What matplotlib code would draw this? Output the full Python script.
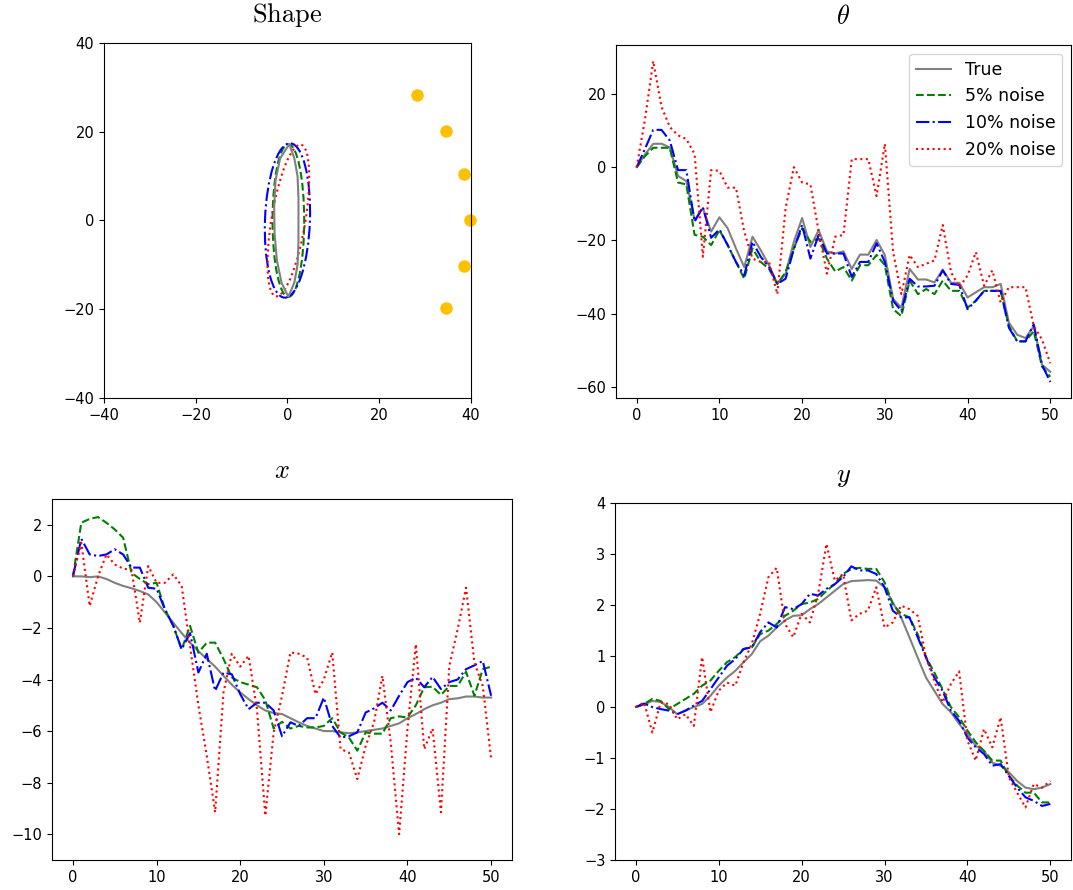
import numpy as np
import matplotlib
matplotlib.use('Agg')
import matplotlib.pyplot as plt
from matplotlib.patches import Ellipse

plt.rcParams['mathtext.fontset'] = 'cm'

t = np.arange(51)
labels = ['True', '5% noise', '10% noise', '20% noise']
colors = ['grey', 'g', 'b', 'r']
styles = ['-', '--', '-.', ':']

# theta
theta_true = [0, 3.5, 6.4, 6.4, 5.4, -2.4, -3.8, -14.4, -11.2, -17.6, -13.7, -16.7, -22.2, -27.3, -19, -22.7,
              -26.8, -31.9, -29.1, -20.4, -13.9, -21.8, -17.2, -23, -23.6, -23, -27.8, -23.9, -23.9, -19.9, -24,
              -36, -38.4, -27.8, -30.7, -30.7, -31.5, -28, -31.6, -31.6, -35.6, -34.2, -32.8, -32.8, -31.9, -42.5,
              -45.8, -46.7, -43.4, -54, -55.9]
theta_5 = [0, 3, 5.3, 5.3, 5.3, -4.2, -4.7, -18.5, -19, -21.3, -17.2, -21.3, -25.9, -30.5, -22.2, -25.9,
           -27.8, -31.9, -28.7, -22.2, -16.7, -20.4, -19.5, -25, -28.5, -27.3, -31, -26.8, -26.8, -24, -26.8,
           -38.8, -40.7, -31, -34.7, -33.3, -34.7, -31, -33.8, -33.8, -38.4, -36.5, -33.8, -33.8, -33.8, -43.4,
           -47.6, -47.6, -44.8, -54.5, -57.3]
theta_10 = [0, 5, 10.2, 10.2, 7.3, -0.8, -0.8, -14.9, -10.9, -19.3, -17, -21.3, -25.9, -29.6, -20.4, -24.5,
            -27.3, -31.9, -30.5, -22.4, -15.8, -25, -18.5, -23.6, -23.6, -23.6, -30, -25.9, -25.9, -20.8, -25.9,
            -36.5, -39.3, -30.5, -32.6, -32.6, -32.4, -28.2, -31.9, -32.2, -38.8, -36.5, -33.8, -33.8, -33.8, -43.9,
            -47.6, -47.6, -43, -54, -58.7]
theta_20 = [0, 13, 29, 16.5, 11, 8.7, 7.7, 3.6, -24.5, -0.8, -1, -5.6, -5.6, -17.6, -25, -25.9,
            -25.9, -34.7, -11.2, 0, -4.2, -4.7, -17.6, -29.1, -19, -18.5, 2.2, 2.2, 2.2, -7.9, 6.4,
            -23.2, -34.7, -24, -27.3, -26.4, -25.5, -15.8, -28.7, -32.8, -29.6, -23.2, -32.4, -28.2, -37, -32.8,
            -32.8, -32.8, -43.4, -47.1, -53.6]

# x
x_true = [0, 0, -0.03, 0, -0.1, -0.25, -0.37, -0.46, -0.57, -0.7, -1.0, -1.4, -1.8, -2.2, -2.57, -2.9,
          -3.2, -3.5, -3.86, -4.2, -4.5, -4.76, -5.0, -5.2, -5.3, -5.34, -5.5, -5.66, -5.8, -5.9, -6.0,
          -6.0, -6.05, -6.08, -6.05, -6.0, -5.95, -5.9, -5.8, -5.7, -5.5, -5.34, -5.15, -5.0, -4.9, -4.76,
          -4.73, -4.66, -4.66, -4.7, -4.7]
x_5 = [0, 2.08, 2.23, 2.3, 2.08, 1.82, 1.5, 0.14, -0.1, -0.3, -0.25, -1.28, -1.92, -2.83, -1.92, -2.96,
       -2.57, -2.57, -3.2, -3.92, -4.1, -4.2, -4.3, -4.8, -5.9, -5.64, -5.9, -5.8, -5.86, -5.86, -5.8,
       -5.5, -6.05, -6.25, -6.76, -6.05, -6.1, -6.1, -5.5, -5.43, -5.47, -5.0, -4.3, -4.28, -4.6, -4.25,
       -4.25, -3.7, -4.63, -3.6, -3.5]
x_10 = [0, 1.46, 0.85, 0.79, 0.85, 1.05, 0.85, 0.34, 0.34, -0.44, -0.48, -1.28, -1.92, -2.83, -2.2, -3.73,
        -3.0, -4.44, -3.73, -3.8, -4.57, -5.15, -4.9, -4.9, -5.2, -6.2, -5.66, -5.8, -5.5, -5.5, -4.7,
        -5.8, -6.25, -6.2, -6.05, -5.28, -5.12, -4.9, -5.2, -4.63, -4.1, -3.93, -4.3, -3.9, -4.37, -4.1,
        -4.0, -3.6, -3.45, -3.28, -4.63]
x_20 = [0, 1.3, -1.15, 0, 0.85, 0.46, 0.3, 0.25, -1.8, 0.4, -0.25, -0.25, 0.08, -0.37, -2.7, -5.0,
        -6.96, -9.15, -4.5, -3.0, -3.5, -3.08, -5.15, -9.28, -6.05, -4.63, -2.95, -3.0, -3.15, -4.57, -4.0,
        -2.95, -6.7, -6.83, -7.86, -6.58, -5.66, -3.86, -6.45, -10.0, -5.9, -2.63, -6.7, -5.9, -9.15, -3.47,
        -2.05, -0.44, -3.34, -4.25, -7.08]

# y
y_true = [0, 0.05, 0.12, 0.1, 0, -0.14, -0.07, 0, 0.06, 0.22, 0.42, 0.58, 0.71, 0.88, 1.04, 1.29,
          1.4, 1.56, 1.7, 1.79, 1.8, 1.92, 2.02, 2.15, 2.28, 2.41, 2.47, 2.48, 2.49, 2.48, 2.35,
          2.05, 1.76, 1.37, 0.97, 0.58, 0.32, 0.06, -0.1, -0.33, -0.53, -0.76, -0.86, -1.09, -1.15, -1.28,
          -1.45, -1.58, -1.61, -1.58, -1.51]
y_5 = [0, 0.06, 0.16, 0.12, -0.04, 0.06, 0.16, 0.26, 0.42, 0.52, 0.71, 0.88, 0.98, 1.14, 1.17, 1.43,
       1.5, 1.63, 1.79, 1.89, 2.02, 2.05, 2.12, 2.28, 2.41, 2.61, 2.71, 2.73, 2.71, 2.71, 2.45,
       2.02, 1.83, 1.76, 1.43, 0.98, 0.68, 0.35, 0, -0.2, -0.46, -0.69, -0.86, -1.05, -1.05, -1.35,
       -1.54, -1.68, -1.68, -1.87, -1.87]
y_10 = [0, 0.07, 0, -0.04, -0.07, -0.14, -0.07, 0.03, 0.12, 0.35, 0.58, 0.81, 0.94, 1.14, 1.17, 1.47,
        1.66, 1.56, 1.96, 1.92, 2.02, 2.22, 2.19, 2.32, 2.41, 2.55, 2.76, 2.68, 2.68, 2.61, 2.35,
        1.89, 1.76, 1.76, 1.37, 0.98, 0.58, 0.32, -0.07, -0.27, -0.6, -0.79, -0.92, -1.15, -1.12, -1.35,
        -1.58, -1.77, -1.84, -1.94, -1.9]
y_20 = [0, 0.09, -0.5, 0.09, 0.06, -0.24, -0.14, -0.37, 0.98, -0.1, 0.32, 0.48, 0.42, 0.88, 1.24, 1.83,
        2.55, 2.73, 1.63, 1.37, 1.83, 1.66, 2.22, 3.2, 2.48, 2.61, 1.7, 1.83, 1.89, 2.35, 1.56,
        1.66, 1.99, 1.92, 1.79, 0.98, 0.52, 0.09, 0.45, 0.7, -0.66, -1.05, -0.43, -0.79, -0.2, -1.38,
        -1.68, -1.97, -1.51, -1.58, -1.45]

# shape
shape_true_x = [0.4, 1.5, 2.2, 2.4, 2.4, 2.4, 2.2, 1.5, 0.2, -1.3, -2.3, -2.8, -2.9, -2.6, -1.6, 0.4]
shape_true_y = [17.2, 14, 10, 5, 0, -5, -10, -14, -17.2, -14, -9, -3, 3, 9, 14, 17.2]
# noisy shapes: center x, center y, width, height, angle
ell_cx = [0.2, 0.0, 0.2]
ell_cy = [0.0, 0.0, 0.0]
ell_w = [6.9, 9.8, 7.4]
ell_h = [34.4, 34.8, 34.6]
ell_ang = [0, -2, -9]
sensor_x = [28.2, 34.5, 38.5, 39.8, 38.5, 34.6]
sensor_y = [28.2, 20.1, 10.5, 0.2, -10.2, -19.8]

fig = plt.figure(figsize=(10.73, 8.9), dpi=100)
ax1 = fig.add_axes([0.0969, 0.5528, 0.342, 0.3989])
ax2 = fig.add_axes([0.5741, 0.5528, 0.424, 0.3966])
ax3 = fig.add_axes([0.0485, 0.0337, 0.4287, 0.4056])
ax4 = fig.add_axes([0.5732, 0.0337, 0.425, 0.401])

ax1.plot(shape_true_x, shape_true_y, color='grey', lw=1.5)
for i in range(3):
    e = Ellipse((ell_cx[i], ell_cy[i]), ell_w[i], ell_h[i], angle=ell_ang[i], fill=False,
                edgecolor=colors[i + 1], linestyle=styles[i + 1], lw=1.5)
    ax1.add_patch(e)
ax1.plot(sensor_x, sensor_y, 'o', color='#ffc000', ms=8, clip_on=False)
ax1.set_xlim(-40, 40)
ax1.set_ylim(-40, 40)
ax1.set_xticks([-40, -20, 0, 20, 40])
ax1.set_yticks([-40, -20, 0, 20, 40])

for data, ax in [([theta_true, theta_5, theta_10, theta_20], ax2),
                 ([x_true, x_5, x_10, x_20], ax3),
                 ([y_true, y_5, y_10, y_20], ax4)]:
    for k in range(4):
        ax.plot(t, data[k], color=colors[k], linestyle=styles[k], lw=1.5, label=labels[k])
    ax.set_xticks([0, 10, 20, 30, 40, 50])

ax2.legend(loc='upper right', fontsize=12.5)
ax3.set_ylim(-11, 3)
ax4.set_ylim(-3, 4)

ax1.set_title(r'$\mathrm{Shape}$', fontsize=19, pad=15)
ax2.set_title(r'$\theta$', fontsize=19, pad=15)
ax3.set_title(r'$x$', fontsize=19, pad=15)
ax4.set_title(r'$y$', fontsize=19, pad=15)

for ax in [ax1, ax2, ax3, ax4]:
    ax.tick_params(labelsize=10.5)

plt.savefig('out.png', dpi=100)
